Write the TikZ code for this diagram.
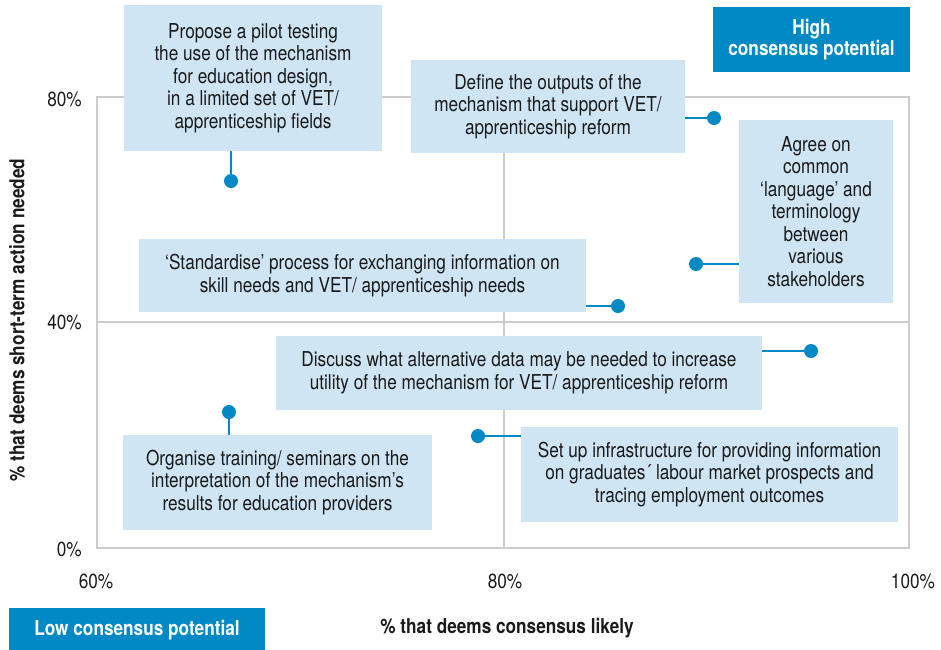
\documentclass[tikz,border=0pt]{standalone}
\usepackage{fontspec}
\setmainfont{TeX Gyre Heros}[FakeStretch=0.84]
\definecolor{cblue}{HTML}{0089C4}
\definecolor{lblue}{HTML}{CFE5F4}
\definecolor{grid}{HTML}{CCCCCC}
\definecolor{ink}{HTML}{1A1A1A}
\tikzset{
  box/.style={fill=lblue, inner sep=0pt, align=center, text=ink,
    font=\fontsize{20.5}{22.5}\selectfont},
  tag/.style={fill=cblue, inner sep=0pt, align=center, text=white,
    font=\fontsize{20.5}{21}\selectfont\bfseries},
  dotmark/.style={circle, fill=cblue, minimum size=14pt, inner sep=0pt},
  conn/.style={draw=cblue, line width=2pt},
  gridline/.style={draw=grid, line width=1.6pt},
  axlab/.style={text=ink, inner sep=0pt, font=\fontsize{20.5}{22}\selectfont},
  axtitle/.style={text=ink, inner sep=0pt, font=\fontsize{20.5}{22}\selectfont\bfseries}
}
\begin{document}
\begin{tikzpicture}[x=1pt,y=-1pt]
\useasboundingbox (0,0) rectangle (941,649);
% plot frame and grid
\draw[gridline] (97,97) rectangle (909,548);
\draw[gridline] (97,322) -- (909,322);
\draw[gridline] (504,97) -- (504,548);
% axis labels
\node[axlab, anchor=east] (y80) at (82,99) {80\%};
\node[axlab, anchor=east] (y40) at (82,322) {40\%};
\node[axlab, anchor=east] (y0) at (82,549) {0\%};
\node[axlab] (x60) at (96,581) {60\%};
\node[axlab] (x80) at (505,581) {80\%};
\node[axlab] (x100) at (913,581) {100\%};
\node[axtitle] (xt) at (507,628) {\% that deems consensus likely};
\node[axtitle, rotate=90] (yt) at (17,320) {\% that deems short-term action needed};
% corner tags
\node[tag, minimum width=197pt, minimum height=65pt] (high) at (811.5,39.5) {High\\consensus potential};
\node[tag, minimum width=256pt, minimum height=44pt] (low) at (137,630) {Low consensus potential};
% dots
\node[dotmark] (d1) at (231,181) {};
\node[dotmark] (d2) at (714,118) {};
\node[dotmark] (d3) at (696,264) {};
\node[dotmark] (d4) at (618,306) {};
\node[dotmark] (d5) at (811,351) {};
\node[dotmark] (d6) at (229,412) {};
\node[dotmark] (d7) at (478,436) {};
% boxes
\node[box, minimum width=258pt, minimum height=146pt] (b1) at (253,78)
  {Propose a pilot testing\\the use of the mechanism\\for education design,\\in a limited set of VET/\\apprenticeship fields};
\node[box, minimum width=274pt, minimum height=93pt] (b2) at (548,106.5)
  {Define the outputs of the\\mechanism that support VET/\\apprenticeship reform};
\node[box, minimum width=154pt, minimum height=183pt] (b3) at (816,211.5)
  {Agree on\\common\\‘language’ and\\terminology\\between\\various\\stakeholders};
\node[box, minimum width=447pt, minimum height=73pt] (b4) at (362.5,275.5)
  {‘Standardise’ process for exchanging information on\\skill needs and VET/ apprenticeship needs};
\node[box, minimum width=486pt, minimum height=74pt] (b5) at (519,373)
  {Discuss what alternative data may be needed to increase\\utility of the mechanism for VET/ apprenticeship reform};
\node[box, minimum width=309pt, minimum height=95pt] (b6) at (277.5,482.5)
  {Organise training/ seminars on the\\interpretation of the mechanism’s\\results for education providers};
\node[box, minimum width=377pt, minimum height=95pt] (b7) at (709.5,474.5)
  {Set up infrastructure for providing information\\on graduates´ labour market prospects and\\tracing employment outcomes};
% connectors
\draw[conn] (b1.south -| d1) -- (d1.north);
\draw[conn] (b2.east |- d2) -- (d2.west);
\draw[conn] (b3.west |- d3) -- (d3.east);
\draw[conn] (b4.east |- d4) -- (d4.west);
\draw[conn] (b5.east |- d5) -- (d5.west);
\draw[conn] (b6.north -| d6) -- (d6.south);
\draw[conn] (b7.west |- d7) -- (d7.east);
\end{tikzpicture}
\end{document}
